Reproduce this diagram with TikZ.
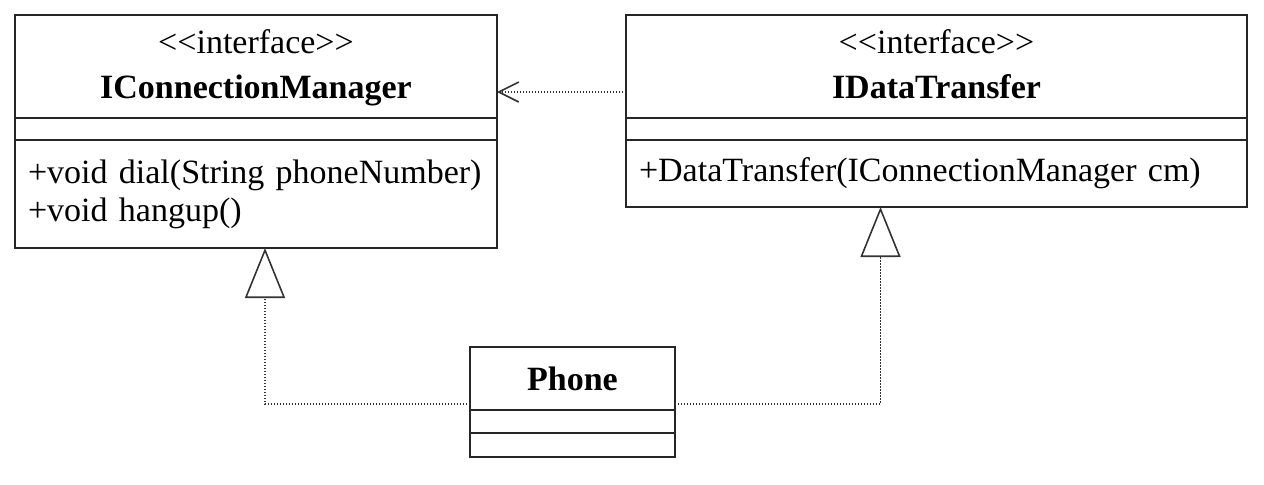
\documentclass[tikz,border=0pt]{standalone}
\usepackage{fontspec}
\setmainfont{Liberation Serif}
\usetikzlibrary{arrows.meta,positioning}
\tikzstyle{part}=[
	 draw=black!85, line width=0.8pt,
	 outer sep=0pt, inner sep=0pt,
	 font=\fontsize{17}{22.5}\selectfont
    ]
\tikzstyle{head}=[part, align=center, anchor=north west]
\tikzstyle{ops}=[part, inner xsep=6.5pt, align=left]
\tikzstyle{dep}=[draw=black!80, line width=0.7pt, dash pattern=on 0.7pt off 0.8pt,
	 -{Straight Barb[length=10pt,width=10pt,line width=0.8pt]}]
\tikzstyle{real}=[draw=black!80, line width=0.7pt, dash pattern=on 0.7pt off 0.8pt,
	 -{Triangle[open,length=25pt,width=20pt,line width=0.8pt]}]
\newcommand{\pReal}[3]{\draw[real] ([yshift=3pt]#1) -| ([xshift=#3]#2.south)}
\newcommand{\stereo}{\strut<{}<interface>{}>}

\begin{document}
\begin{tikzpicture}

\useasboundingbox (0,0) rectangle (632pt,-242pt);

\node[head, minimum width=241pt, minimum height=51.5pt] (ICMhead) at (7.5pt,-7.5pt)
	{\stereo\\ \strut\textbf{IConnectionManager}};
\node[part, minimum width=241pt, minimum height=11pt, below=0pt of ICMhead] (ICMattr) {};
\node[ops, text width=228pt, minimum height=54pt, font=\fontsize{17}{19}\selectfont, below=0pt of ICMattr] (ICMops)
	{+void dial(String phoneNumber)\\ +void hangup()};

\node[head, minimum width=310.5pt, minimum height=51.5pt] (IDThead) at (313pt,-7.5pt)
	{\stereo\\ \strut\textbf{IDataTransfer}};
\node[part, minimum width=310.5pt, minimum height=11pt, below=0pt of IDThead] (IDTattr) {};
\node[ops, text width=297.5pt, minimum height=33.5pt, below=0pt of IDTattr] (IDTops)
	{+DataTransfer(IConnectionManager cm)};

\node[head, minimum width=102.5pt, minimum height=31.5pt] (Phonehead) at (235pt,-173.5pt)
	{\textbf{Phone}};
\node[part, minimum width=102.5pt, minimum height=11.5pt, below=0pt of Phonehead] (Phoneattr) {};
\node[part, minimum width=102.5pt, minimum height=12pt, below=0pt of Phoneattr] (Phoneops) {};

\draw[dep] ([yshift=-12.75pt]IDThead.west) -- ([yshift=-12.75pt]ICMhead.east);

\pReal{Phonehead.south west}{ICMops}{4.5pt};
\pReal{Phonehead.south east}{IDTops}{-28pt};

\end{tikzpicture}
\end{document}
